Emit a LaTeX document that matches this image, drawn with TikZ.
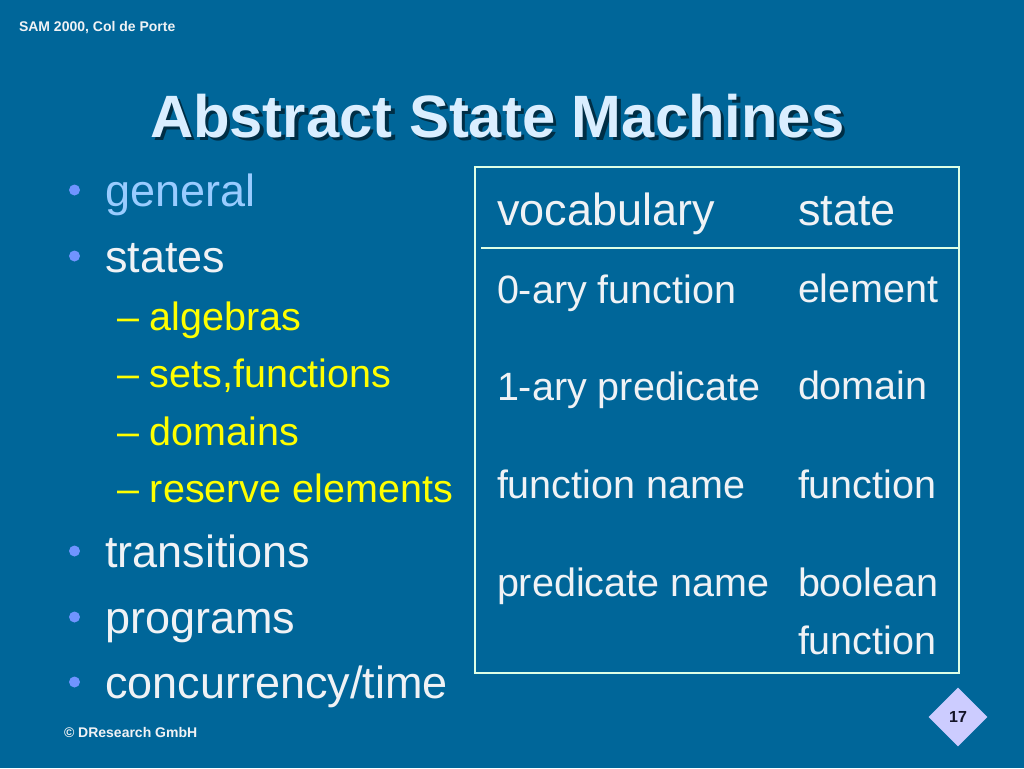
\documentclass[tikz,border=0pt]{standalone}
\usepackage{fontspec}
\setmainfont{Liberation Sans}
\usetikzlibrary{shapes.geometric}
\definecolor{bg}{HTML}{006699}
\definecolor{titlec}{HTML}{DAEEFF}
\definecolor{txt}{HTML}{F0F2F5}
\definecolor{gen}{HTML}{99CCFF}
\definecolor{yel}{HTML}{FFFF00}
\definecolor{bul}{HTML}{7094FF}
\definecolor{boxc}{HTML}{DDFFE6}
\definecolor{dia}{HTML}{CCCCFF}
\definecolor{diatxt}{HTML}{141428}
\tikzset{
  lbl/.style={anchor=base west, inner sep=0pt, outer sep=0pt},
  mainitem/.style={lbl, text=txt, font=\fontsize{45}{54}\selectfont},
  subitem/.style={lbl, text=yel, font=\fontsize{39.5}{47}\selectfont},
  tabhead/.style={lbl, text=txt, font=\fontsize{45}{54}\selectfont},
  tabcell/.style={lbl, text=txt, font=\fontsize{39.5}{47}\selectfont},
  small/.style={lbl, text=txt, font=\bfseries\fontsize{14}{17}\selectfont},
  bulletdot/.style={circle, fill=bul, inner sep=0pt, minimum size=11pt},
  boxline/.style={draw=boxc, line width=1.4pt}
}
\begin{document}
\begin{tikzpicture}[x=1pt,y=-1pt]
\fill[bg] (0,0) rectangle (1024,768);
\useasboundingbox (0,0) rectangle (1024,768);

% header and footer
\node[small] (hdr) at (19,32) {SAM 2000, Col de Porte};
\node[small] (ftr) at (64,737) {\textcopyright{} DResearch GmbH};

% title with shadow
\node[lbl, text=black, opacity=0.55, font=\bfseries\fontsize{59.8}{70}\selectfont] (titlesh) at (153.5,140.5) {Abstract State Machines};
\node[lbl, text=titlec, font=\bfseries\fontsize{59.8}{70}\selectfont] (title) at (150,137) {Abstract State Machines};

% left list
\node[bulletdot] (b1) at (74.5,190) {};
\node[mainitem, text=gen] (general) at (105,206) {general};
\node[bulletdot] (b2) at (74.5,256) {};
\node[mainitem] (states) at (105,272) {states};
\node[subitem] (alg) at (117,330) {– algebras};
\node[subitem] (sets) at (117,387) {– sets,functions};
\node[subitem] (dom) at (117,445) {– domains};
\node[subitem] (res) at (117,502) {– reserve elements};
\node[bulletdot] (b3) at (74.5,551) {};
\node[mainitem] (trans) at (105,567) {transitions};
\node[bulletdot] (b4) at (74.5,617) {};
\node[mainitem] (prog) at (105,633) {programs};
\node[bulletdot] (b5) at (74.5,682) {};
\node[mainitem] (conc) at (105,698) {concurrency/time};

% table box
\draw[boxline] (475,167) rectangle (959,673);
\coordinate (sepL) at (481,248);
\coordinate (sepR) at (959,248);
\draw[boxline] (sepL) -- (sepR);

\node[tabhead] (vocab) at (497,225) {vocabulary};
\node[tabhead] (state) at (798,225) {state};

\node[tabcell] (r1a) at (497,303) {0-ary function};
\node[tabcell] (r1b) at (798,302) {element};
\node[tabcell] (r2a) at (497,400) {1-ary predicate};
\node[tabcell] (r2b) at (798,399) {domain};
\node[tabcell] (r3a) at (497,498) {function name};
\node[tabcell] (r3b) at (798,498) {function};
\node[tabcell] (r4a) at (497,596) {predicate name};
\node[tabcell] (r4b) at (798,596) {boolean};
\node[tabcell] (r4c) at (798,654) {function};

% page number diamond
\node[diamond, aspect=1, fill=dia, inner sep=0pt, minimum width=59pt, minimum height=59pt,
      text=diatxt, font=\bfseries\fontsize{16}{19}\selectfont] (pg) at (958,717) {17};
\end{tikzpicture}
\end{document}
